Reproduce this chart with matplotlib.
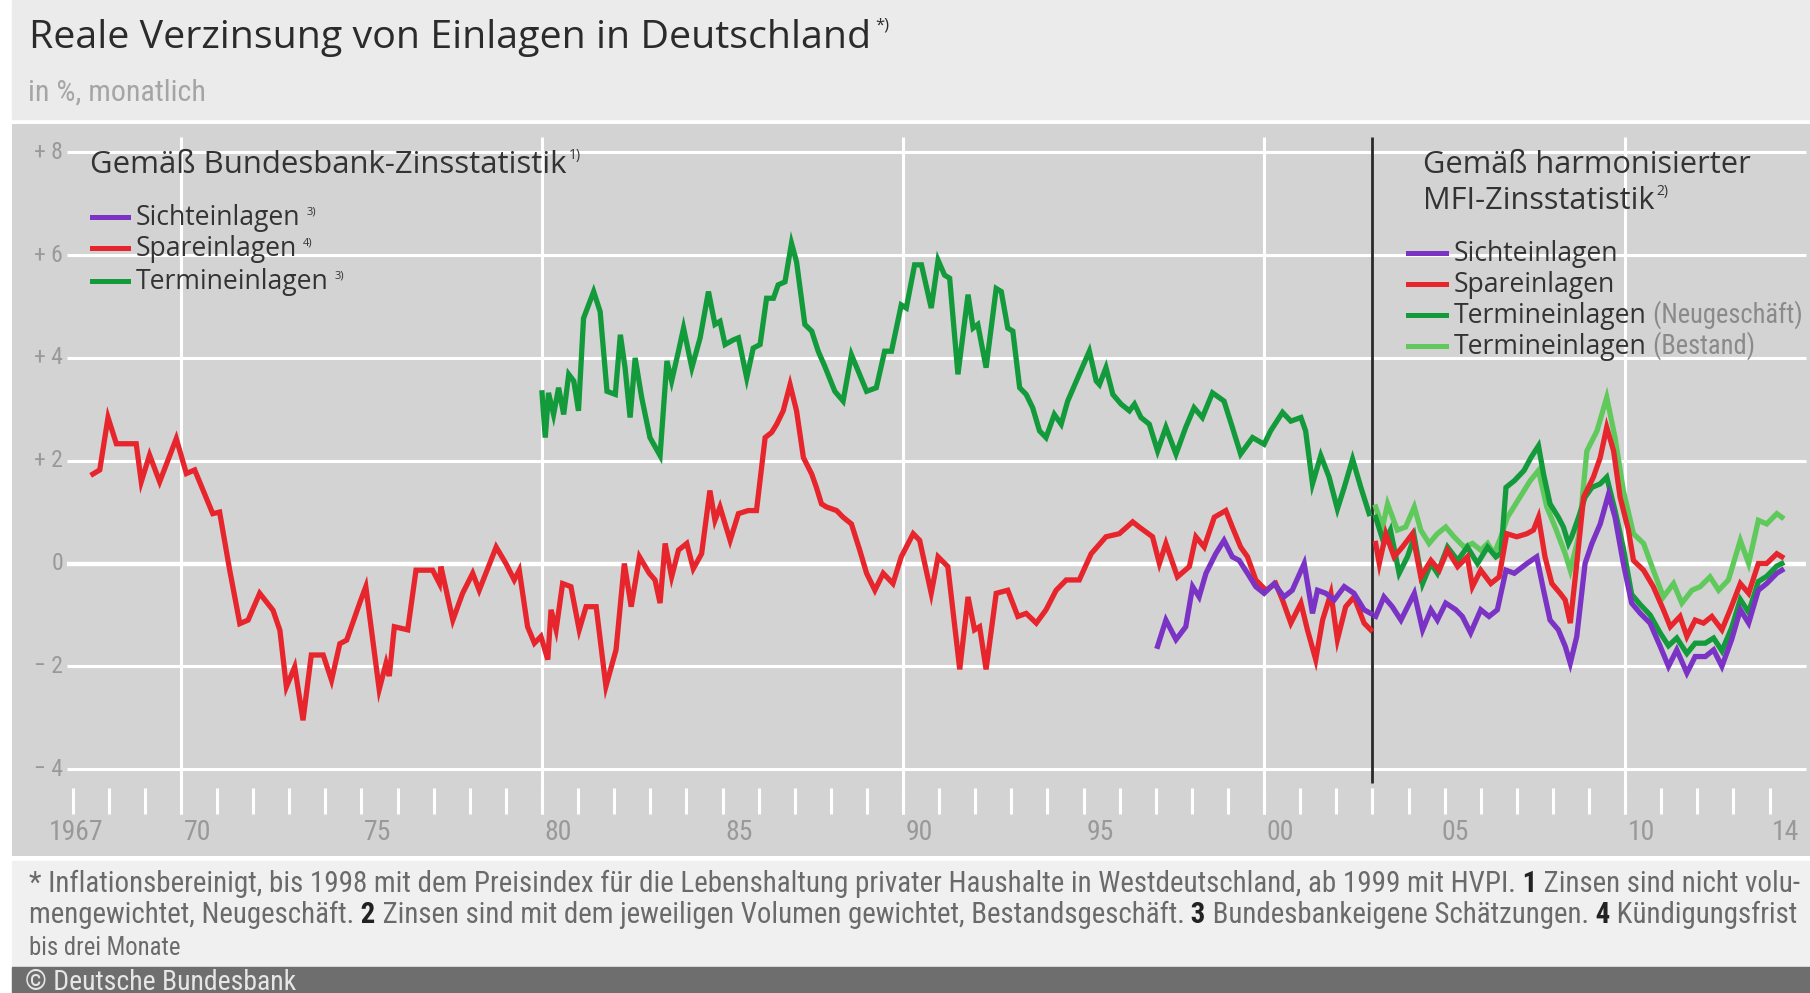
import matplotlib
matplotlib.use('Agg')
import matplotlib.pyplot as plt
import matplotlib.font_manager as fm
from matplotlib.patches import Rectangle

# ---- data: real interest rates on deposits, % ----
# Bundesbank interest rate statistics
spar_bb_year = [1967.56, 1967.75, 1967.98, 1968.21, 1968.76, 1968.90, 1969.13, 1969.41, 1969.87, 1970.15,
                1970.38, 1970.88, 1971.07, 1971.35, 1971.63, 1971.86, 1972.18, 1972.55, 1972.74, 1972.92,
                1973.15, 1973.38, 1973.61, 1973.94, 1974.17, 1974.40, 1974.59, 1974.96, 1975.12, 1975.49,
                1975.68, 1975.77, 1975.91, 1976.28, 1976.51, 1976.97, 1977.16, 1977.20, 1977.53, 1977.80,
                1978.08, 1978.26, 1978.73, 1979.00, 1979.23, 1979.37, 1979.60, 1979.79, 1979.97, 1980.16,
                1980.25, 1980.39, 1980.57, 1980.80, 1981.03, 1981.22, 1981.50, 1981.77, 1982.05, 1982.28,
                1982.47, 1982.70, 1982.97, 1983.13, 1983.27, 1983.41, 1983.59, 1983.78, 1984.01, 1984.19,
                1984.42, 1984.65, 1984.79, 1984.93, 1985.21, 1985.44, 1985.71, 1985.94, 1986.18, 1986.36,
                1986.50, 1986.68, 1986.87, 1987.05, 1987.24, 1987.47, 1987.60, 1987.74, 1987.88, 1988.16,
                1988.34, 1988.57, 1988.80, 1988.99, 1989.22, 1989.45, 1989.72, 1989.95, 1990.28, 1990.46,
                1990.78, 1990.97, 1991.24, 1991.57, 1991.80, 1991.98, 1992.12, 1992.30, 1992.58, 1992.90,
                1993.18, 1993.41, 1993.69, 1993.96, 1994.24, 1994.52, 1994.88, 1995.21, 1995.62, 1995.99,
                1996.36, 1996.54, 1996.91, 1997.10, 1997.28, 1997.60, 1997.93, 1998.11, 1998.34, 1998.62,
                1998.94, 1999.12, 1999.35, 1999.54, 1999.77, 2000.05, 2000.32, 2000.51, 2000.74, 2001.02,
                2001.20, 2001.43, 2001.62, 2001.85, 2002.03, 2002.26, 2002.49, 2002.77, 2002.95]
spar_bb_val = [1.74, 1.82, 2.84, 2.33, 2.33, 1.59, 2.11, 1.59, 2.43, 1.75,
               1.82, 0.97, 1.00, -0.13, -1.17, -1.10, -0.58, -0.91, -1.30, -2.40,
               -2.01, -3.05, -1.78, -1.78, -2.27, -1.56, -1.49, -0.75, -0.45, -2.45,
               -1.94, -2.19, -1.23, -1.29, -0.13, -0.13, -0.39, -0.06, -1.10, -0.58,
               -0.19, -0.52, 0.32, 0.00, -0.32, -0.13, -1.23, -1.55, -1.42, -1.87,
               -0.90, -1.29, -0.39, -0.45, -1.29, -0.84, -0.84, -2.39, -1.68, 0.00,
               -0.84, 0.13, -0.19, -0.32, -0.77, 0.39, -0.26, 0.26, 0.39, -0.10,
               0.19, 1.42, 0.84, 1.10, 0.45, 0.97, 1.03, 1.03, 2.45, 2.55,
               2.71, 2.97, 3.48, 2.97, 2.06, 1.74, 1.48, 1.16, 1.10, 1.03,
               0.90, 0.77, 0.26, -0.19, -0.52, -0.19, -0.39, 0.13, 0.58, 0.45,
               -0.58, 0.13, -0.06, -2.06, -0.65, -1.29, -1.23, -2.06, -0.58, -0.52,
               -1.03, -0.97, -1.16, -0.90, -0.52, -0.32, -0.32, 0.19, 0.52, 0.58,
               0.81, 0.71, 0.52, 0.00, 0.39, -0.26, -0.06, 0.52, 0.32, 0.90,
               1.03, 0.71, 0.32, 0.13, -0.32, -0.52, -0.39, -0.71, -1.16, -0.77,
               -1.29, -1.87, -1.10, -0.58, -1.48, -0.84, -0.65, -1.16, -1.29]

termin_bb_year = [1980.00, 1980.09, 1980.18, 1980.32, 1980.46, 1980.60, 1980.74, 1980.88, 1981.01, 1981.15,
                  1981.43, 1981.61, 1981.80, 1982.03, 1982.17, 1982.30, 1982.44, 1982.58, 1982.76, 1982.99,
                  1983.27, 1983.46, 1983.59, 1983.78, 1983.92, 1984.15, 1984.38, 1984.61, 1984.79, 1984.93,
                  1985.07, 1985.30, 1985.44, 1985.67, 1985.85, 1986.04, 1986.22, 1986.41, 1986.54, 1986.73,
                  1986.91, 1987.05, 1987.28, 1987.47, 1987.65, 1987.83, 1988.11, 1988.34, 1988.57, 1988.76,
                  1988.99, 1989.26, 1989.49, 1989.68, 1989.95, 1990.09, 1990.32, 1990.51, 1990.78, 1990.97,
                  1991.15, 1991.29, 1991.52, 1991.80, 1991.94, 1992.07, 1992.30, 1992.58, 1992.72, 1992.90,
                  1993.04, 1993.23, 1993.41, 1993.59, 1993.78, 1993.96, 1994.19, 1994.38, 1994.56, 1994.88,
                  1995.16, 1995.35, 1995.44, 1995.62, 1995.81, 1996.04, 1996.27, 1996.41, 1996.59, 1996.82,
                  1997.05, 1997.28, 1997.56, 1997.83, 1998.06, 1998.29, 1998.57, 1998.89, 1999.12, 1999.35,
                  1999.68, 2000.00, 2000.18, 2000.51, 2000.74, 2001.02, 2001.15, 2001.34, 2001.57, 2001.80,
                  2002.03, 2002.22, 2002.45, 2002.68, 2002.91]
termin_bb_val = [3.32, 2.45, 3.32, 2.90, 3.42, 2.90, 3.68, 3.55, 2.97, 4.77,
                 5.29, 4.90, 3.35, 3.29, 4.45, 3.81, 2.84, 4.00, 3.23, 2.45,
                 2.10, 3.94, 3.55, 4.13, 4.58, 3.81, 4.39, 5.29, 4.65, 4.71,
                 4.26, 4.35, 4.39, 3.61, 4.19, 4.26, 5.16, 5.16, 5.42, 5.48,
                 6.23, 5.87, 4.65, 4.52, 4.13, 3.84, 3.35, 3.16, 4.06, 3.74,
                 3.35, 3.42, 4.13, 4.13, 5.03, 4.97, 5.81, 5.81, 4.97, 5.90,
                 5.61, 5.55, 3.68, 5.23, 4.58, 4.65, 3.81, 5.35, 5.29, 4.58,
                 4.52, 3.42, 3.29, 3.03, 2.58, 2.45, 2.90, 2.71, 3.16, 3.68,
                 4.13, 3.55, 3.48, 3.81, 3.29, 3.10, 2.97, 3.10, 2.84, 2.71,
                 2.19, 2.65, 2.13, 2.65, 3.03, 2.84, 3.32, 3.16, 2.65, 2.13,
                 2.45, 2.32, 2.58, 2.94, 2.77, 2.84, 2.58, 1.55, 2.10, 1.68,
                 1.06, 1.48, 2.03, 1.48, 0.97]

sicht_bb_year = [1997.05, 1997.28, 1997.56, 1997.83, 1998.02, 1998.20, 1998.39, 1998.66, 1998.89, 1999.12,
                 1999.31, 1999.54, 1999.77, 2000.00, 2000.28, 2000.55, 2000.78, 2001.11, 2001.34, 2001.48,
                 2001.71, 2001.94, 2002.22, 2002.49, 2002.77, 2002.95]
sicht_bb_val = [-1.61, -1.10, -1.48, -1.23, -0.45, -0.65, -0.19, 0.19, 0.45, 0.13,
                0.06, -0.19, -0.45, -0.58, -0.39, -0.65, -0.52, 0.00, -0.97, -0.52,
                -0.58, -0.71, -0.45, -0.58, -0.90, -0.97]

# harmonised MFI interest rate statistics
sicht_mfi_year = [2003.09, 2003.32, 2003.55, 2003.79, 2004.16, 2004.39, 2004.62, 2004.80, 2005.03, 2005.31,
                  2005.49, 2005.72, 2006.00, 2006.23, 2006.46, 2006.70, 2006.93, 2007.28, 2007.55, 2007.74,
                  2007.92, 2008.15, 2008.34, 2008.48, 2008.66, 2008.89, 2009.08, 2009.31, 2009.54, 2009.72,
                  2009.95, 2010.18, 2010.42, 2010.69, 2010.97, 2011.20, 2011.43, 2011.71, 2011.94, 2012.22,
                  2012.45, 2012.68, 2012.95, 2013.19, 2013.42, 2013.69, 2013.92, 2014.20, 2014.34]
sicht_mfi_val = [-1.03, -0.65, -0.84, -1.10, -0.58, -1.29, -0.90, -1.10, -0.77, -0.90,
                 -1.03, -1.35, -0.90, -1.03, -0.90, -0.13, -0.19, 0.00, 0.13, -0.52,
                 -1.10, -1.29, -1.61, -1.94, -1.42, 0.00, 0.39, 0.77, 1.35, 0.90,
                 0.00, -0.77, -0.97, -1.16, -1.61, -2.00, -1.68, -2.13, -1.81, -1.81,
                 -1.68, -2.00, -1.48, -0.90, -1.16, -0.52, -0.39, -0.19, -0.13]

spar_mfi_year = [2003.09, 2003.19, 2003.37, 2003.60, 2003.83, 2004.11, 2004.34, 2004.62, 2004.85, 2005.08,
                 2005.36, 2005.63, 2005.77, 2006.00, 2006.28, 2006.51, 2006.72, 2007.00, 2007.28, 2007.46,
                 2007.60, 2007.78, 2007.97, 2008.20, 2008.34, 2008.48, 2008.66, 2008.85, 2009.12, 2009.31,
                 2009.49, 2009.68, 2009.86, 2010.09, 2010.23, 2010.51, 2010.78, 2011.06, 2011.25, 2011.52,
                 2011.71, 2011.94, 2012.17, 2012.40, 2012.68, 2012.91, 2013.19, 2013.42, 2013.69, 2013.92,
                 2014.20, 2014.34]
spar_mfi_val = [0.39, 0.00, 0.58, 0.13, 0.32, 0.58, -0.26, 0.06, -0.13, 0.26,
                -0.06, 0.13, -0.45, -0.13, -0.39, -0.26, 0.58, 0.52, 0.58, 0.65,
                0.90, 0.13, -0.39, -0.58, -0.71, -1.16, 0.00, 1.29, 1.68, 2.06,
                2.65, 2.19, 1.29, 0.65, 0.06, -0.13, -0.45, -0.90, -1.23, -1.03,
                -1.42, -1.10, -1.16, -1.03, -1.29, -0.90, -0.39, -0.58, 0.00, 0.00,
                0.19, 0.13]

neu_mfi_year = [2003.09, 2003.32, 2003.50, 2003.74, 2003.97, 2004.16, 2004.39, 2004.62, 2004.80, 2005.08,
                2005.36, 2005.63, 2005.91, 2006.19, 2006.42, 2006.56, 2006.70, 2006.93, 2007.20, 2007.39,
                2007.60, 2007.74, 2007.92, 2008.15, 2008.29, 2008.43, 2008.52, 2008.71, 2008.89, 2009.08,
                2009.31, 2009.49, 2009.72, 2009.95, 2010.18, 2010.42, 2010.69, 2010.97, 2011.20, 2011.43,
                2011.71, 2011.94, 2012.22, 2012.45, 2012.68, 2012.95, 2013.19, 2013.42, 2013.69, 2013.92,
                2014.20, 2014.34]
neu_mfi_val = [0.90, 0.39, 0.65, -0.19, 0.13, 0.52, -0.39, 0.00, -0.19, 0.32,
               0.06, 0.32, 0.00, 0.32, 0.13, 0.20, 1.48, 1.61, 1.81, 2.06,
               2.29, 1.74, 1.16, 0.90, 0.71, 0.39, 0.52, 0.90, 1.29, 1.48,
               1.55, 1.68, 1.03, 0.30, -0.60, -0.80, -1.00, -1.35, -1.60, -1.45,
               -1.75, -1.55, -1.55, -1.45, -1.70, -1.25, -0.70, -0.95, -0.35, -0.25,
               -0.05, 0.00]

bestand_mfi_year = [2003.09, 2003.28, 2003.42, 2003.69, 2003.92, 2004.16, 2004.34, 2004.57, 2004.80, 2005.03,
                    2005.26, 2005.54, 2005.77, 2006.00, 2006.19, 2006.37, 2006.56, 2006.74, 2007.05, 2007.37,
                    2007.60, 2007.83, 2008.06, 2008.34, 2008.48, 2008.71, 2008.94, 2009.22, 2009.49, 2009.72,
                    2009.95, 2010.23, 2010.51, 2010.78, 2011.06, 2011.34, 2011.57, 2011.85, 2012.08, 2012.35,
                    2012.59, 2012.86, 2013.19, 2013.42, 2013.69, 2013.92, 2014.20, 2014.34]
bestand_mfi_val = [1.10, 0.71, 1.16, 0.65, 0.71, 1.10, 0.65, 0.39, 0.58, 0.71,
                   0.52, 0.32, 0.39, 0.26, 0.39, 0.19, 0.52, 0.90, 1.25, 1.61,
                   1.81, 1.10, 0.71, 0.19, -0.13, 0.52, 2.19, 2.58, 3.23, 2.45,
                   1.42, 0.58, 0.39, -0.13, -0.65, -0.39, -0.77, -0.52, -0.45, -0.26,
                   -0.52, -0.32, 0.45, 0.00, 0.84, 0.77, 0.97, 0.90]

y_ticks = [8, 6, 4, 2, 0, -2, -4]
y_labels = ['+ 8', '+ 6', '+ 4', '+ 2', '0', '\u2212 2', '\u2212 4']
x_label_pos = [1967.1, 1970.45, 1975.45, 1980.45, 1985.45, 1990.45, 1995.45, 2000.45, 2005.3, 2010.45, 2014.45]
x_labels = ['1967', '70', '75', '80', '85', '90', '95', '00', '05', '10', '14']

PURPLE = '#7a33c4'
RED = '#e6262c'
DGREEN = '#129a3b'
LGREEN = '#5fc95c'

avail = {f.name for f in fm.fontManager.ttflist}
SANS = 'Open Sans' if 'Open Sans' in avail else 'DejaVu Sans'
NARROW = SANS
for name in ['Liberation Sans Narrow', 'Roboto Condensed', 'Open Sans Condensed', 'Roboto']:
    if name in avail:
        NARROW = name
        break

W, H = 1810, 993
fig = plt.figure(figsize=(W / 100, H / 100), dpi=100)
fig.patch.set_facecolor('white')
renderer = fig.canvas.get_renderer()


def band(y0, y1, color, z=0):
    fig.patches.append(Rectangle((12 / W, 1 - y1 / H), 1 - 12 / W, (y1 - y0) / H,
                                 transform=fig.transFigure, color=color, zorder=z))


def put(x, y, s, size, color='#333333', family=SANS, weight='normal', z=3):
    # x, y in pixels from top-left, y is the baseline
    t = fig.text(x / W, 1 - y / H, s, fontsize=size, color=color, family=family,
                 weight=weight, va='baseline', ha='left', zorder=z)
    return t, t.get_window_extent(renderer).x1


def fit(s, width, family=SANS, weight='normal'):
    size = 20
    for _ in range(3):
        t = fig.text(0, 0, s, fontsize=size, family=family, weight=weight)
        w = t.get_window_extent(renderer).width
        t.remove()
        size = size * width / w
    return size


def put_runs(x, y, parts, size, z=3):
    texts = []
    for s, bold in parts:
        t, x = put(x, y, s, size, color='#222222' if bold else '#6a6a6a', family=NARROW,
                   weight='bold' if bold else 'normal', z=z)
        texts.append(t)
    return texts, x


def fitted_runs(x, y, parts, width, z=3):
    size = 20
    for _ in range(3):
        texts, x1 = put_runs(x, y, parts, size, z)
        for t in texts:
            t.remove()
        size = size * width / (x1 - x)
    put_runs(x, y, parts, size, z)


# background bands
band(0, 119, '#ebebeb')
band(861, 967, '#f0f0f0')
band(967, 993, '#6e6e6e', z=5)

ax = fig.add_axes([12 / W, 1 - 856 / H, (W - 12) / W, (856 - 124) / H])
ax.set_facecolor('#d3d3d3')
ax.set_xlim(1965.32, 2015.12)
ax.set_ylim(-5.69, 8.55)
ax.set_xticks([])
ax.set_yticks([])
for s in ax.spines.values():
    s.set_visible(False)

for v in y_ticks:
    ax.hlines(v, 1966.85, 2015.0, color='white', lw=3.2 if v == 0 else 2.2, zorder=1)
ax.vlines([1970, 1980, 1990, 2000, 2010], -4.87, 8.3, color='white', lw=2.2, zorder=1)
ax.vlines(range(1967, 2015), -4.87, -4.37, color='white', lw=2.2, zorder=1)
ax.vlines(2003, -4.27, 8.3, color='#2a2a2a', lw=2.0, zorder=2)

for v, lab in zip(y_ticks, y_labels):
    ax.text(1966.73, v, lab, ha='right', va='center', fontsize=17, color='#999999', family=NARROW)
for p, lab in zip(x_label_pos, x_labels):
    ax.text(p, -5.24, lab, ha='center', va='center', fontsize=20, color='#999999', family=NARROW)

lw = 3.8
ax.plot(termin_bb_year, termin_bb_val, color=DGREEN, lw=lw, zorder=3, solid_joinstyle='miter')
ax.plot(spar_bb_year, spar_bb_val, color=RED, lw=lw, zorder=3, solid_joinstyle='miter')
ax.plot(sicht_bb_year, sicht_bb_val, color=PURPLE, lw=lw, zorder=4, solid_joinstyle='miter')
ax.plot(bestand_mfi_year, bestand_mfi_val, color=LGREEN, lw=lw, zorder=3, solid_joinstyle='miter')
ax.plot(neu_mfi_year, neu_mfi_val, color=DGREEN, lw=lw, zorder=3, solid_joinstyle='miter')
ax.plot(spar_mfi_year, spar_mfi_val, color=RED, lw=lw, zorder=4, solid_joinstyle='miter')
ax.plot(sicht_mfi_year, sicht_mfi_val, color=PURPLE, lw=lw, zorder=5, solid_joinstyle='miter')

# title block
title = 'Reale Verzinsung von Einlagen in Deutschland'
t, x1 = put(29, 48, title, fit(title, 842), color='#2b2b2b')
put(x1 + 4, 30, '*)', 12, color='#2b2b2b')
sub = 'in %, monatlich'
put(28, 101, sub, fit(sub, 177, NARROW), color='#a5a5a5', family=NARROW)

# left legend
head = 'Gemäß Bundesbank-Zinsstatistik'
t, x1 = put(90, 173, head, fit(head, 476))
put(x1 + 2, 159, '1)', 10)
entry_size = fit('Sichteinlagen', 164)
for lab, sup, col, y in [('Sichteinlagen', '3)', PURPLE, 225),
                         ('Spareinlagen', '4)', RED, 256),
                         ('Termineinlagen', '3)', DGREEN, 289)]:
    fig.add_artist(plt.Line2D([92 / W, 128 / W], [1 - (y - 8) / H] * 2, color=col, lw=3.6))
    t, x1 = put(136, y, lab, entry_size)
    put(x1 + 6, y - 10, sup, 8)

# right legend
head1 = 'Gemäß harmonisierter'
put(1423, 173, head1, fit(head1, 328))
t, x1 = put(1423, 209, 'MFI-Zinsstatistik', fit(head1, 328))
put(x1 + 2, 195, '2)', 10)
for lab, extra, col, y in [('Sichteinlagen', '', PURPLE, 261),
                           ('Spareinlagen', '', RED, 292),
                           ('Termineinlagen', ' (Neugeschäft)', DGREEN, 323),
                           ('Termineinlagen', ' (Bestand)', LGREEN, 354)]:
    fig.add_artist(plt.Line2D([1408 / W, 1446 / W], [1 - (y - 8) / H] * 2, color=col, lw=3.6))
    t, x1 = put(1454, y, lab, entry_size)
    if extra:
        extra_size = min(entry_size, fit(' (Neugeschäft)', 1803 - x1, NARROW))
        put(x1, y, extra, extra_size, color='#8a8a8a', family=NARROW)

# footnotes
line1 = [('* Inflationsbereinigt, bis 1998 mit dem Preisindex für die Lebenshaltung privater Haushalte '
          'in Westdeutschland, ab 1999 mit HVPI.', False),
         (' 1', True), (' Zinsen sind nicht volu-', False)]
line2 = [('mengewichtet, Neugeschäft.', False), (' 2', True),
         (' Zinsen sind mit dem jeweiligen Volumen gewichtet, Bestandsgeschäft.', False),
         (' 3', True), (' Bundesbankeigene Schätzungen.', False), (' 4', True), (' Kündigungsfrist', False)]
fitted_runs(29, 892, line1, 1770)
fitted_runs(29, 923, line2, 1768)
last = 'bis drei Monate'
put(29, 955, last, fit(last, 152, NARROW), family=NARROW, color='#6a6a6a')

cr = '\u00a9 Deutsche Bundesbank'
put(25, 990, cr, 20, color='#e6e6e6', family=NARROW, z=6)

fig.savefig('out.png', dpi=100, facecolor=fig.get_facecolor())
